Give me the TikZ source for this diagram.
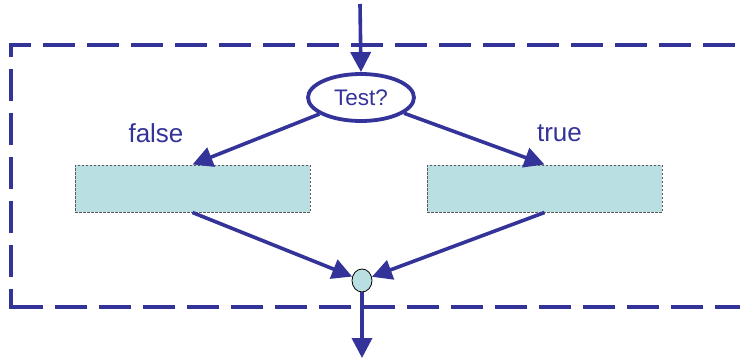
\documentclass[tikz,border=0pt]{standalone}
\usepackage{fontspec}
\setmainfont{Liberation Sans}
\usetikzlibrary{arrows.meta,shapes.geometric}
\definecolor{flowblue}{RGB}{51,51,153}
\definecolor{boxfill}{RGB}{185,223,227}
\tikzset{
  flow/.style={draw=flowblue, line width=3.6pt, -{Triangle[width=20pt,length=20pt]}},
  frame/.style={draw=flowblue, line width=4pt, dash pattern=on 32pt off 12pt},
  testnode/.style={ellipse, draw=flowblue, line width=3.8pt, fill=white,
    minimum width=106pt, minimum height=47pt, inner sep=0pt,
    text=flowblue, font=\fontsize{22.5}{26}\selectfont},
  actbox/.style={rectangle, fill=boxfill, draw=black!65, line width=1pt,
    dash pattern=on 2.5pt off 1.5pt, minimum width=235pt, minimum height=47pt, inner sep=0pt},
  joinnode/.style={ellipse, fill=boxfill, draw=black, line width=0.8pt,
    minimum width=20pt, minimum height=23pt, inner sep=0pt},
  branch/.style={text=flowblue, font=\fontsize{26}{30}\selectfont, inner sep=0pt, anchor=base}
}
\begin{document}
\begin{tikzpicture}[x=1pt,y=-1pt]
\useasboundingbox (0,0) rectangle (740,359);

% dashed frame, open on the right
\draw[frame, dash phase=10pt] (9,45) -- (760,45);
\draw[frame, dash phase=18pt] (11,43) -- (11,309);
\draw[frame, dash phase=0pt] (11,307) -- (760,307);

% nodes
\node[testnode] (test) at (361,97.5) {Test?};
\node[actbox] (lbox) at (192.5,188.5) {};
\node[actbox] (rbox) at (544.5,188.5) {};
\node[joinnode] (join) at (362,280.5) {};
\coordinate (entry) at (360,4);
\coordinate (exit) at (362,358);

% branch labels
\node[branch] (lfalse) at (156,142.5) {false};
\node[branch] (ltrue) at (559.5,141.5) {true};

% connectors
\draw[flow] (entry) -- (test.north);
\draw[flow] (test) -- (lbox.north);
\draw[flow] (test) -- (rbox.north);
\draw[flow] (lbox.south) -- (join);
\draw[flow] (rbox.south) -- (join);
\draw[flow] (join.south) -- (exit);
\end{tikzpicture}
\end{document}
